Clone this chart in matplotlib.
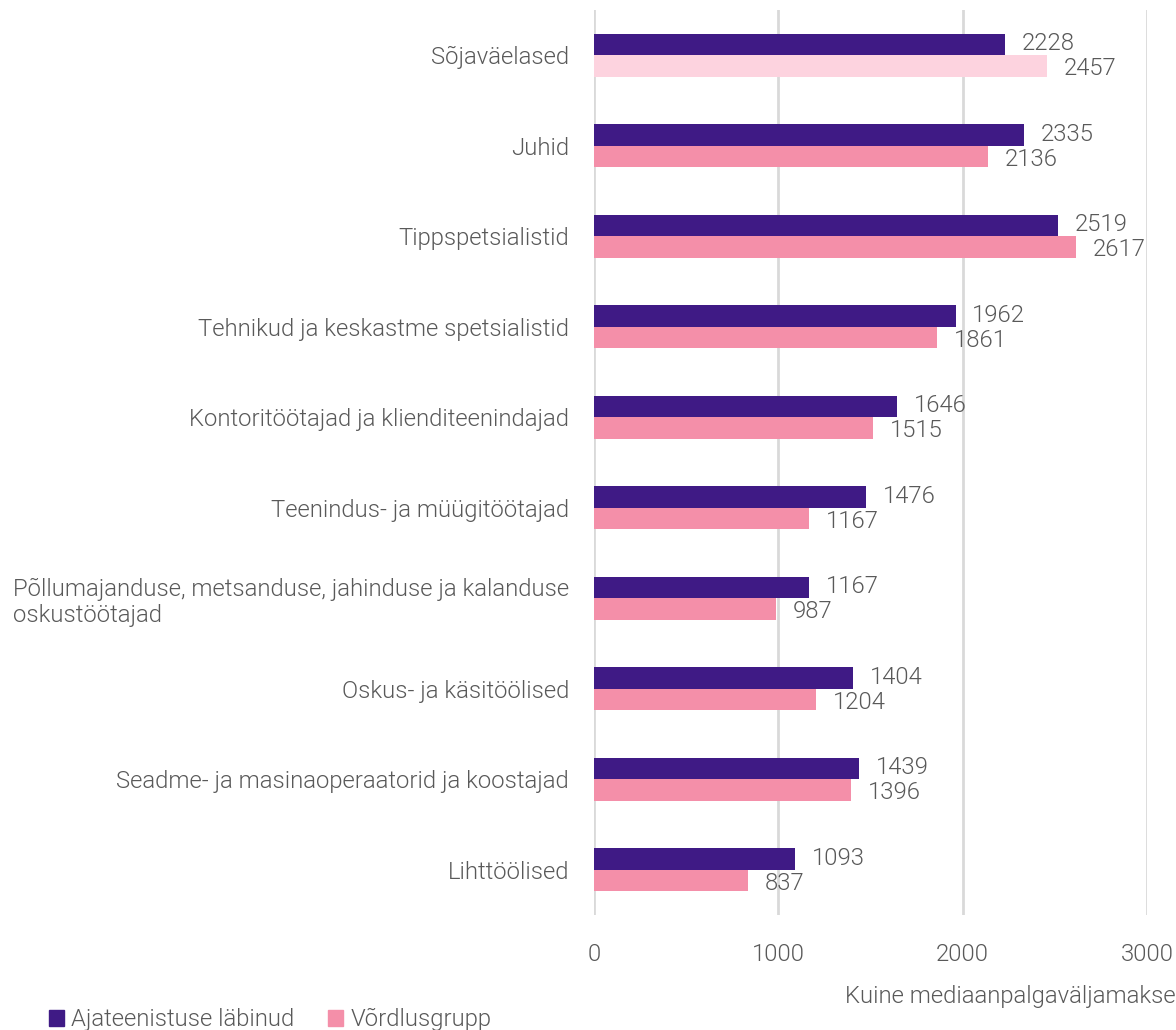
import matplotlib.pyplot as plt
from matplotlib.patches import Patch
import numpy as np

plt.rcParams["font.family"] = ["Roboto", "DejaVu Sans"]

categories = [
    "Sõjaväelased",
    "Juhid",
    "Tippspetsialistid",
    "Tehnikud ja keskastme spetsialistid",
    "Kontoritöötajad ja klienditeenindajad",
    "Teenindus- ja müügitöötajad",
    "Põllumajanduse, metsanduse, jahinduse ja kalanduse\noskustöötajad",
    "Oskus- ja käsitöölised",
    "Seadme- ja masinaoperaatorid ja koostajad",
    "Lihttöölised",
]
ajateenistus = [2228, 2335, 2519, 1962, 1646, 1476, 1167, 1404, 1439, 1093]
vordlus = [2457, 2136, 2617, 1861, 1515, 1167, 987, 1204, 1396, 837]
x_ticks = [0, 1000, 2000, 3000]

dark = "#3f1a85"
pink = "#f48fa9"
light_pink = "#fdd3df"
text_col = "#595959"
grid_col = "#d9d9d9"
fs = 17.2
fw = 300

fig = plt.figure(figsize=(11.76, 10.30), dpi=100)
ax = fig.add_axes([594 / 1176, 115 / 1030, 553 / 1176, 905 / 1030])

y = np.arange(len(categories))
h = 0.235
pink_colors = [light_pink] + [pink] * (len(categories) - 1)
ax.barh(y - h / 2, ajateenistus, height=h, color=dark, zorder=3)
ax.barh(y + h / 2, vordlus, height=h, color=pink_colors, zorder=3)

# value labels next to bar ends
for yi, a, v in zip(y, ajateenistus, vordlus):
    ax.annotate(str(a), (a, yi - h / 2), xytext=(12, 0.5), textcoords="offset points",
                ha="left", va="center", fontsize=fs, color=text_col, fontweight=fw)
    ax.annotate(str(v), (v, yi + h / 2), xytext=(12, -2), textcoords="offset points",
                ha="left", va="center", fontsize=fs, color=text_col, fontweight=fw)

ax.set_ylim(len(categories) - 0.5, -0.5)
ax.set_xlim(0, 3000)
ax.set_xticks(x_ticks)
ax.set_yticks(y)
ax.set_yticklabels(categories)
for lbl in ax.get_yticklabels():
    lbl.set_multialignment("left")
ax.tick_params(axis="both", length=0, labelsize=fs, labelcolor=text_col)
ax.tick_params(axis="y", pad=18)
ax.tick_params(axis="x", pad=20)
for lbl in ax.get_xticklabels() + ax.get_yticklabels():
    lbl.set_fontweight(fw)

ax.grid(axis="x", color=grid_col, linewidth=2, zorder=0)
for s in ax.spines.values():
    s.set_visible(False)

fig.text(1.0, (1030 - 997) / 1030, "Kuine mediaanpalgaväljamakse",
         ha="right", va="center", fontsize=fs, color=text_col, fontweight=fw)

handles = [Patch(color=dark, label="Ajateenistuse läbinud"),
           Patch(color=pink, label="Võrdlusgrupp")]
leg = fig.legend(handles=handles, loc="lower left", bbox_to_anchor=(0.023, -0.022),
                 ncol=2, frameon=False, fontsize=fs, handlelength=0.65, handleheight=0.65,
                 handletextpad=0.3, columnspacing=1.4)
for t in leg.get_texts():
    t.set_color(text_col)
    t.set_fontweight(fw)

fig.savefig("out.png", dpi=100)
